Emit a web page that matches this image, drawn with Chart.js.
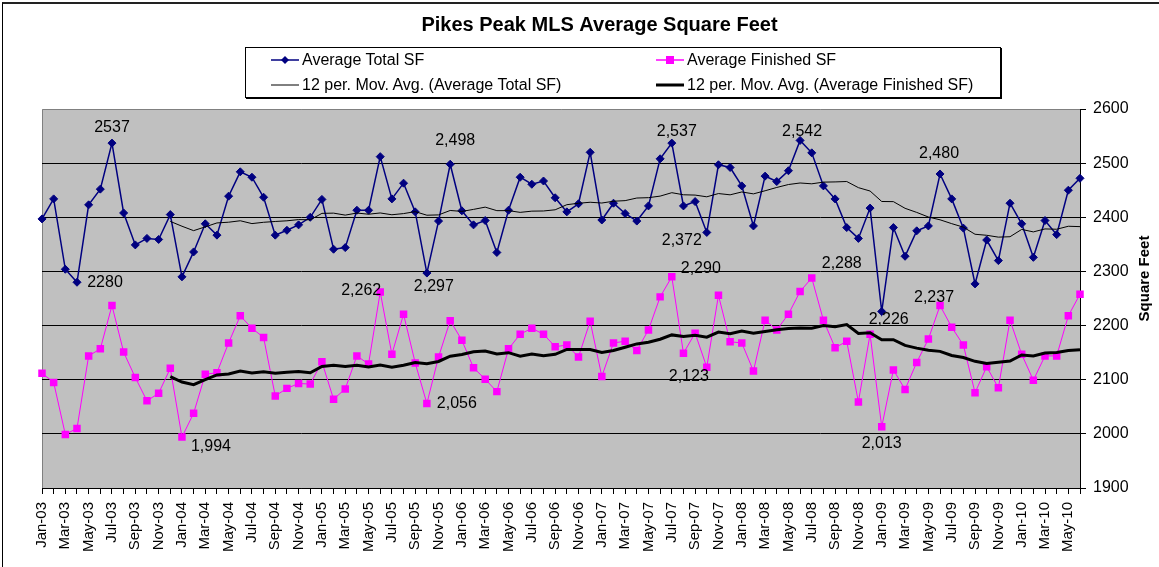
<!DOCTYPE html>
<html>
<head>
<meta charset="utf-8">
<title>Pikes Peak MLS Average Square Feet</title>
<script src="https://cdn.jsdelivr.net/npm/chart.js@4.4.0/dist/chart.umd.min.js"></script>
<style>
  body{margin:0;background:#fff;font-family:Arial,"Liberation Sans",sans-serif;}
  #wrap{position:relative;width:1159px;height:567px;overflow:hidden;}
  #grafico{position:absolute;left:0;top:0;}
  #marco{position:absolute;left:2px;top:2px;right:-5px;bottom:-5px;border-top:2px solid #222;border-left:1px solid #000;pointer-events:none;}
  #leyenda{position:absolute;left:245px;top:47px;width:754px;height:49px;border:1px solid #000;box-shadow:1px 1px 0 #000;background:#fff;}
  .item{position:absolute;font-size:16px;line-height:18px;white-space:nowrap;color:#000;}
  .item svg{position:absolute;left:-31px;top:3px;}
</style>
</head>
<body>
<div id="wrap">
  <canvas id="grafico" width="1159" height="567"></canvas>
  <div id="leyenda">
    <div class="item" style="left:56px;top:3px"><svg width="28" height="12"><line x1="0" y1="6" x2="28" y2="6" stroke="#000080" stroke-width="1.5"/><polygon points="14,2 18,6 14,10 10,6" fill="#000080"/></svg>Average Total SF</div>
    <div class="item" style="left:441px;top:3px"><svg width="28" height="12"><line x1="0" y1="6" x2="28" y2="6" stroke="#FF00FF" stroke-width="1.5"/><rect x="10" y="2" width="8" height="8" fill="#FF00FF"/></svg>Average Finished SF</div>
    <div class="item" style="left:56px;top:28px"><svg width="28" height="12"><line x1="0" y1="6" x2="28" y2="6" stroke="#000" stroke-width="1"/></svg>12 per. Mov. Avg. (Average Total SF)</div>
    <div class="item" style="left:441px;top:28px"><svg width="28" height="12"><line x1="0" y1="6" x2="28" y2="6" stroke="#000" stroke-width="3"/></svg>12 per. Mov. Avg. (Average Finished SF)</div>
  </div>
  <div id="marco"></div>
</div>
<script>
// meses del eje x
const meses = [
  'Jan-03','Feb-03','Mar-03','Apr-03','May-03','Jun-03','Jul-03','Aug-03','Sep-03','Oct-03','Nov-03','Dec-03',
  'Jan-04','Feb-04','Mar-04','Apr-04','May-04','Jun-04','Jul-04','Aug-04','Sep-04','Oct-04','Nov-04','Dec-04',
  'Jan-05','Feb-05','Mar-05','Apr-05','May-05','Jun-05','Jul-05','Aug-05','Sep-05','Oct-05','Nov-05','Dec-05',
  'Jan-06','Feb-06','Mar-06','Apr-06','May-06','Jun-06','Jul-06','Aug-06','Sep-06','Oct-06','Nov-06','Dec-06',
  'Jan-07','Feb-07','Mar-07','Apr-07','May-07','Jun-07','Jul-07','Aug-07','Sep-07','Oct-07','Nov-07','Dec-07',
  'Jan-08','Feb-08','Mar-08','Apr-08','May-08','Jun-08','Jul-08','Aug-08','Sep-08','Oct-08','Nov-08','Dec-08',
  'Jan-09','Feb-09','Mar-09','Apr-09','May-09','Jun-09','Jul-09','Aug-09','Sep-09','Oct-09','Nov-09','Dec-09',
  'Jan-10','Feb-10','Mar-10','Apr-10','May-10','Jun-10'
];

// Average Total SF (azul)
const totalSF = [
  2397,2434,2304,2280,2423,2452,2537,2408,2349,2361,2359,2405,
  2290,2336,2388,2367,2439,2484,2474,2437,2367,2376,2386,2400,
  2433,2341,2344,2413,2413,2512,2434,2463,2410,2297,2393,2498,
  2412,2386,2394,2335,2413,2474,2461,2467,2436,2410,2425,2520,
  2395,2426,2407,2393,2421,2508,2537,2421,2429,2372,2497,2492,
  2458,2384,2476,2466,2486,2542,2519,2458,2434,2381,2361,2417,
  2226,2381,2328,2375,2384,2480,2434,2380,2277,2358,2320,2426,
  2388,2326,2394,2368,2450,2472
];

// Average Finished SF (magenta)
const terminadoSF = [
  2112,2095,1999,2010,2144,2157,2237,2151,2104,2061,2075,2121,
  1994,2038,2110,2113,2168,2218,2195,2178,2070,2084,2093,2092,
  2133,2064,2083,2144,2129,2262,2147,2221,2131,2056,2142,2209,
  2173,2122,2101,2078,2157,2184,2195,2184,2161,2164,2142,2208,
  2106,2168,2171,2154,2192,2253,2290,2149,2186,2123,2256,2170,
  2168,2116,2210,2192,2221,2263,2288,2210,2159,2171,2059,2184,
  2013,2118,2082,2132,2175,2237,2197,2164,2076,2124,2085,2210,
  2147,2099,2144,2144,2218,2258
];

const ejeMin = 1900;
const ejeMax = 2600;
const ejePaso = 100;

// etiquetas de valores: serie, indice, si lleva coma, desplazamiento del texto
const etiquetas = [
  {serie:0, i:6,  coma:false, dx:0,   dy:-16},
  {serie:0, i:3,  coma:false, dx:28,  dy:0},
  {serie:0, i:35, coma:true,  dx:5,   dy:-24},
  {serie:0, i:33, coma:true,  dx:7,   dy:14},
  {serie:0, i:54, coma:true,  dx:5,   dy:-12},
  {serie:0, i:57, coma:true,  dx:-25, dy:8},
  {serie:0, i:65, coma:true,  dx:2,   dy:-9},
  {serie:0, i:77, coma:true,  dx:-1,  dy:-20},
  {serie:0, i:72, coma:true,  dx:7,   dy:8},
  {serie:1, i:12, coma:true,  dx:29,  dy:9},
  {serie:1, i:29, coma:true,  dx:-19, dy:-1},
  {serie:1, i:33, coma:true,  dx:30,  dy:0},
  {serie:1, i:54, coma:true,  dx:29,  dy:-8},
  {serie:1, i:57, coma:true,  dx:-18, dy:9},
  {serie:1, i:66, coma:true,  dx:30,  dy:-14},
  {serie:1, i:72, coma:true,  dx:0,   dy:17},
  {serie:1, i:77, coma:true,  dx:-6,  dy:-8}
];

//la linea de tendencia de Excel: promedio de los ultimos 12 periodos
const mediaMovil = (serie, n) => serie.map((v, i) => {
  if (i < n - 1) return null;
  let suma = 0;
  for (let k = i - n + 1; k <= i; k++) suma += serie[k];
  return suma / n;
});

const fuente = 'Arial, "Liberation Sans", sans-serif';
Chart.defaults.font.family = fuente;
Chart.defaults.color = '#000';

// fondo gris del area de trazado
const fondoPlugin = {
  id: 'fondo',
  beforeDraw(chart) {
    const {ctx, chartArea: a} = chart;
    ctx.save();
    ctx.fillStyle = '#C0C0C0';
    ctx.fillRect(a.left, a.top, a.right - a.left, a.bottom - a.top);
    ctx.strokeStyle = '#808080';
    ctx.lineWidth = 1;
    ctx.beginPath();
    ctx.moveTo(a.left + 0.5, a.bottom);
    ctx.lineTo(a.left + 0.5, a.top + 0.5);
    ctx.lineTo(a.right, a.top + 0.5);
    ctx.stroke();
    ctx.restore();
  }
};

// textos de los valores y titulo del eje
const textosPlugin = {
  id: 'textos',
  afterDatasetsDraw(chart) {
    const ctx = chart.ctx;
    ctx.save();
    ctx.fillStyle = '#000';
    ctx.font = '16px ' + fuente;
    ctx.textAlign = 'center';
    ctx.textBaseline = 'middle';
    etiquetas.forEach(e => {
      const punto = chart.getDatasetMeta(e.serie).data[e.i];
      const valor = chart.data.datasets[e.serie].data[e.i];
      const texto = e.coma ? valor.toLocaleString('en-US') : String(valor);
      ctx.fillText(texto, punto.x + e.dx, punto.y + e.dy);
    });
    const y = chart.scales.y;
    ctx.font = 'bold 15px ' + fuente;
    ctx.translate(1145, (y.top + y.bottom) / 2 - 20);
    ctx.rotate(-Math.PI / 2);
    ctx.fillText('Square Feet', 0, 0);
    ctx.restore();
  }
};

const ctx = document.getElementById('grafico').getContext('2d');
new Chart(ctx, {
  type: 'line',
  data: {
    labels: meses,
    datasets: [{
      label: 'Average Total SF',
      data: totalSF,
      borderColor: '#000080',
      backgroundColor: '#000080',
      borderWidth: 1.5,
      pointStyle: 'rectRot',
      pointRadius: 4,
      pointBorderWidth: 1,
      order: 1
    }, {
      label: 'Average Finished SF',
      data: terminadoSF,
      borderColor: '#FF00FF',
      backgroundColor: '#FF00FF',
      borderWidth: 1,
      pointStyle: 'rect',
      pointRadius: 5.3,
      pointBorderWidth: 0,
      order: 2
    }, {
      label: '12 per. Mov. Avg. (Average Total SF)',
      data: mediaMovil(totalSF, 12),
      borderColor: '#000',
      borderWidth: 1,
      pointRadius: 0,
      order: 0
    }, {
      label: '12 per. Mov. Avg. (Average Finished SF)',
      data: mediaMovil(terminadoSF, 12),
      borderColor: '#000',
      borderWidth: 3,
      pointRadius: 0,
      order: 0
    }]
  },
  options: {
    responsive: false,
    animation: false,
    devicePixelRatio: 1,
    layout: {padding: {left: 42, right: 2, top: 0, bottom: 0}},
    plugins: {
      legend: {display: false},
      tooltip: {enabled: false},
      title: {
        display: true,
        text: 'Pikes Peak MLS Average Square Feet',
        color: '#000',
        font: {size: 20, weight: 'bold'},
        padding: {top: 13, bottom: 72}
      }
    },
    scales: {
      x: {
        afterFit: s => { s.height = 79; },
        grid: {drawOnChartArea: false, drawTicks: true, tickLength: 6, color: '#000'},
        border: {color: '#000', width: 1},
        ticks: {
          autoSkip: false,
          maxRotation: 90,
          minRotation: 90,
          padding: 8,
          color: '#000',
          font: {size: 15},
          callback: (v, i) => i % 2 === 0 ? meses[i] : ''
        }
      },
      y: {
        position: 'right',
        min: ejeMin,
        max: ejeMax,
        afterFit: s => { s.width = 77; },
        grid: {
          color: c => c.tick && c.tick.value === ejeMax ? 'rgba(0,0,0,0)' : '#000',
          tickColor: '#000',
          tickLength: 6,
          lineWidth: 1
        },
        border: {color: '#000', width: 1},
        ticks: {stepSize: ejePaso, padding: 7, color: '#000', font: {size: 16}, callback: v => String(v)}
      }
    }
  },
  plugins: [fondoPlugin, textosPlugin]
});
</script>
</body>
</html>
